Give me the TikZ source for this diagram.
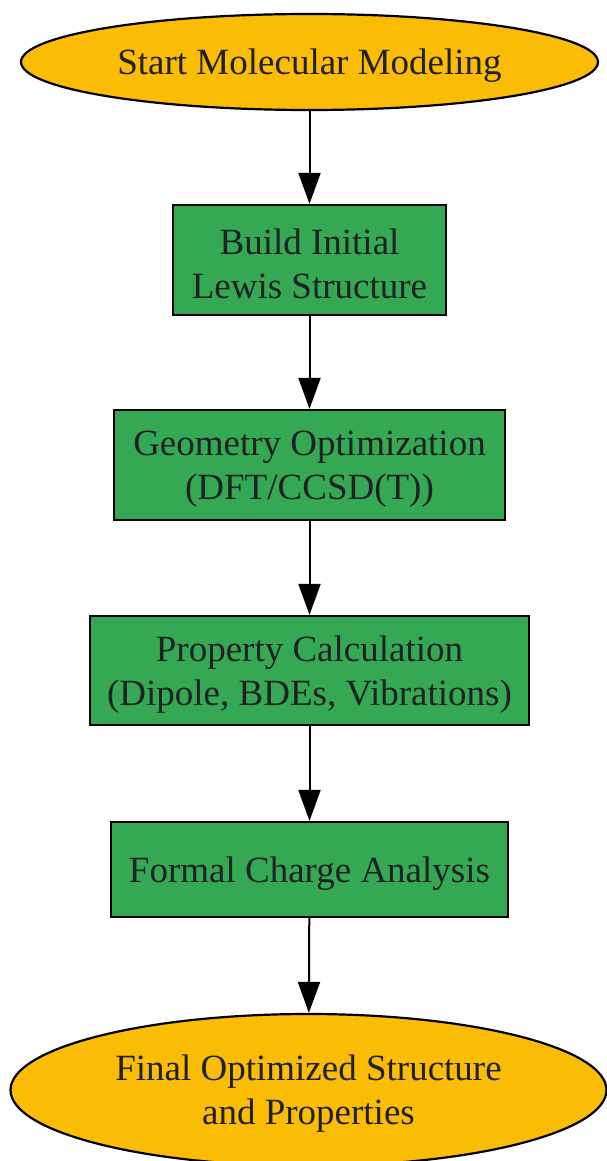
\documentclass[tikz,border=0pt]{standalone}
\usepackage{fontspec}
\setmainfont{Liberation Serif}
\usetikzlibrary{shapes.geometric,arrows.meta}
\definecolor{gyellow}{HTML}{FBBC05}
\definecolor{ggreen}{HTML}{34A853}
\definecolor{gtext}{HTML}{202124}
\begin{document}
\begin{tikzpicture}[x=1pt,y=-1pt,
  lbl/.style={font=\fontsize{37}{44}\selectfont, text=gtext, align=center, inner sep=0pt},
  term/.style={ellipse, draw=black, line width=2.2pt, fill=gyellow},
  procbox/.style={rectangle, draw=black, line width=2.2pt, fill=ggreen},
  txt/.style={label={[lbl, yshift=-4pt]center:#1}},
  flow/.style={line width=2pt, -{Triangle[length=31pt,width=22pt]}}]
\useasboundingbox (0,0) rectangle (607,1161);
\node[term, minimum width=577pt, minimum height=96pt, txt={Start Molecular Modeling}] (start) at (309.5,62) {};
\node[procbox, minimum width=273pt, minimum height=110pt, txt={Build Initial\\Lewis Structure}] (build) at (309.5,260) {};
\node[procbox, minimum width=391pt, minimum height=110pt, txt={Geometry Optimization\\(DFT/CCSD(T))}] (geom) at (309.5,465) {};
\node[procbox, minimum width=439pt, minimum height=109pt, txt={Property Calculation\\(Dipole, BDEs, Vibrations)}] (prop) at (309.5,670.5) {};
\node[procbox, minimum width=397pt, minimum height=95pt, txt={Formal Charge Analysis}] (charge) at (309.5,869.5) {};
\node[term, minimum width=596pt, minimum height=152pt, txt={Final Optimized Structure\\and Properties}] (final) at (308.5,1090) {};
\draw[flow] (start) -- (build);
\draw[flow] (build) -- (geom);
\draw[flow] (geom) -- (prop);
\draw[flow] (prop) -- (charge);
\draw[flow] (charge) -- (final);
\end{tikzpicture}
\end{document}
